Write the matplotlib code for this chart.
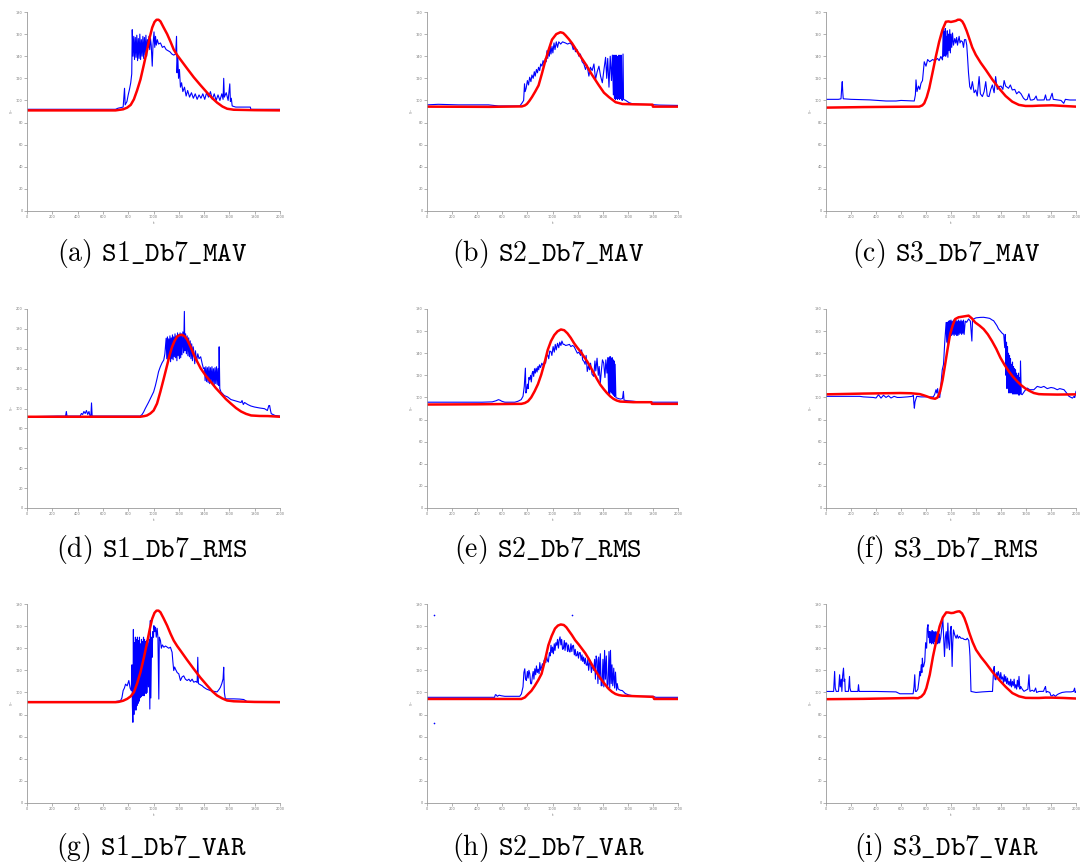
import numpy as np
import matplotlib
matplotlib.use("Agg")
import matplotlib.pyplot as plt

plt.rcParams['mathtext.fontset'] = 'cm'

# --- values (t, value) ---
s1_mav_blue = [(0,92),(700,92),(720,93),(760,94),(771,111),(776,96),(790,99),(800,105),(810,110),(820,116),(828,124),(832,164),(838,140),(844,158),(850,137),(856,157),(862,139),(868,159),(874,136),(880,156),(886,138),(892,160),(898,137),(904,155),(910,140),(916,158),(922,138),(928,157),(934,141),(940,159),(946,140),(952,155),(958,148),(964,158),(970,146),(976,156),(982,150),(990,131),(996,150),(1004,162),(1010,148),(1016,158),(1022,150),(1030,155),(1040,151),(1055,152),(1070,148),(1085,149),(1100,146),(1115,145),(1130,144),(1145,142),(1160,141),(1175,142),(1182,158),(1186,125),(1192,140),(1198,120),(1205,128),(1213,112),(1222,116),(1232,108),(1245,112),(1258,104),(1270,109),(1285,103),(1300,107),(1315,102),(1330,106),(1345,101),(1360,105),(1375,102),(1390,106),(1405,101),(1420,107),(1435,103),(1450,108),(1465,101),(1480,106),(1495,100),(1510,105),(1525,100),(1540,106),(1550,101),(1555,120),(1560,103),(1575,107),(1590,100),(1603,115),(1608,99),(1615,102),(1622,95),(1650,94),(1700,94),(1765,94),(1770,92),(2000,92)]
s1_mav_red = [(0,91),(700,91),(760,92),(792,93.5),(820,96),(845,101),(870,109),(897,119),(925,133),(950,146),(970,157),(990,166),(1008,171),(1024,173),(1040,173),(1055,171.5),(1080,166),(1108,160),(1135,153),(1160,146),(1187,141),(1213,137),(1265,129),(1318,121),(1370,114),(1424,107),(1465,102),(1503,98),(1545,94.5),(1582,92.5),(1634,91.6),(1800,91.2),(2000,91)]

s2_mav_blue = [(0,96),(90,96.5),(250,96),(490,96),(570,95),(740,95),(756,97.5),(770,100),(777,115),(782,108),(790,111),(800,118),(809,114),(818,121),(828,117),(836,123),(846,120),(855,126),(862,122),(872,128),(880,125),(889,130),(898,127),(906,133),(916,131),(925,136),(934,133),(943,138),(950,135),(956,145),(962,138),(969,147),(975,140),(982,150),(988,142),(996,149),(1003,143),(1012,152),(1020,146),(1030,153),(1040,148),(1050,153),(1065,151),(1080,153),(1103,152),(1120,151),(1140,152),(1156,150),(1165,146),(1175,149),(1183,144),(1195,146),(1210,140),(1222,142),(1236,135),(1250,133),(1263,128),(1275,132),(1290,122),(1302,130),(1316,127),(1330,133),(1343,119),(1356,126),(1370,131),(1383,122),(1397,116),(1410,128),(1423,139),(1432,120),(1440,138),(1450,112),(1460,140),(1470,118),(1477,141),(1485,105),(1490,141),(1494,102),(1498,140),(1502,101),(1506,141),(1510,102),(1514,140),(1518,101),(1522,138),(1526,102),(1530,141),(1534,101),(1538,139),(1542,102),(1546,141),(1550,101),(1556,100),(1562,142),(1566,101),(1584,100),(1610,98),(1637,97),(1700,96.5),(1797,96.2),(1850,95.8),(2000,95.5)]
s2_mav_red = [(0,94.4),(500,94.2),(756,94.6),(780,95.5),(796,96.8),(815,99.5),(836,103),(862,108),(889,113.6),(915,124),(943,136),(970,146),(996,155),(1030,160),(1063,161.7),(1085,161),(1103,159),(1130,155.5),(1156,151.7),(1210,142),(1263,133),(1316,123),(1370,113.6),(1410,107),(1450,103),(1503,98.4),(1557,96.8),(1650,96.5),(1797,96.2),(1800,94.4),(2000,94.4)]

s3_mav_blue = [(0,101),(100,101),(120,101.5),(126,112),(130,117),(134,108),(138,101.5),(200,101),(350,100.5),(480,99.5),(560,99.5),(600,100),(706,99.5),(715,105),(720,118.6),(728,108),(740,113),(750,110),(760,115.6),(772,118),(786,135),(800,131),(813,137),(830,135),(853,137),(870,136),(892,138),(905,136),(919,139.8),(932,136.7),(938,165.5),(942,140),(946,162),(950,141),(954,165),(958,140),(962,158),(966,142),(970,163),(975,139),(980,160),(985,145),(990,164),(995,143),(1000,160),(1006,148),(1012,161),(1020,150),(1030,156),(1038,151.9),(1045,157),(1052,150),(1058,154),(1065,158),(1072,152),(1080,154),(1092,153),(1100,148),(1108,155),(1118,155),(1126,150),(1132,139.8),(1140,125),(1150,112.5),(1160,110),(1171,117),(1185,107),(1198,109.5),(1210,104),(1225,121.6),(1235,106),(1251,103.5),(1265,108),(1278,117),(1290,104),(1304,103.5),(1318,110),(1331,114),(1345,107),(1357,121.6),(1370,110),(1384,112.5),(1400,113),(1415,110),(1425,118),(1437,113),(1460,111),(1475,114),(1490,109.5),(1510,110),(1525,106),(1543,108),(1560,106),(1580,102),(1596,100.4),(1610,101),(1623,106),(1635,100.4),(1649,100.4),(1665,101),(1681,104),(1690,100.4),(1720,100.4),(1745,100.5),(1756,105),(1765,100.4),(1790,100.5),(1809,106.5),(1818,101),(1850,100.5),(1880,100),(1902,97.4),(1915,101),(1950,100.4),(2000,100.4)]
s3_mav_red = [(0,93.5),(300,94),(600,94.3),(746,94.4),(770,95.5),(786,97.4),(806,103),(826,111),(852,125),(879,139.8),(905,153),(932,164),(959,171.2),(980,171.5),(999,171),(1020,171.5),(1038,172),(1055,173),(1073,173),(1090,171.5),(1105,168.5),(1125,163),(1145,156.4),(1170,148),(1198,141.3),(1238,134),(1278,127.7),(1330,119),(1384,111),(1437,104),(1490,98.9),(1543,96),(1596,95),(1650,95),(1703,95.3),(1809,95.6),(1900,95),(2000,94.4)]

s1_rms_blue = [(0,91.7),(244,92.4),(305,92.4),(311,97),(316,92.4),(420,92.4),(430,95),(440,94),(450,97),(460,95),(470,98),(480,94),(490,97),(497,93),(505,92.4),(510,105.6),(515,92.4),(700,92.4),(895,92.4),(910,94),(922,96.5),(935,100),(948,103),(960,106),(975,110),(990,114),(1001,116.7),(1015,123),(1028,130),(1040,137),(1054,142),(1068,146),(1081,148.7),(1090,155),(1100,170.6),(1105,150),(1110,172),(1115,148),(1120,170),(1125,152),(1130,173),(1135,147),(1140,171),(1145,150),(1150,174),(1155,149),(1160,172),(1165,152),(1170,175),(1175,151),(1180,173),(1185,148),(1190,176),(1195,153),(1200,174),(1205,150),(1210,176),(1215,151),(1220,175),(1225,154),(1232,177),(1238,156),(1244,197.6),(1248,158),(1254,175),(1260,155),(1266,173),(1272,153),(1278,171),(1284,152),(1290,168),(1296,150),(1302,165),(1308,148),(1314,162),(1320,155.5),(1326,145),(1332,158),(1340,147),(1350,155),(1360,150),(1373,152),(1385,145),(1395,140),(1403,141),(1408,128),(1414,142),(1420,127),(1426,141),(1432,126),(1438,142),(1444,125),(1450,141),(1456,126),(1462,142),(1468,125),(1474,140),(1480,124),(1486,141),(1492,125),(1498,142),(1504,124),(1510,140),(1516,123),(1519,162),(1524,120),(1533,116.7),(1560,113),(1586,111.6),(1612,109),(1639,108),(1665,107),(1692,106),(1700,108),(1710,104),(1720,106),(1745,104),(1770,102.5),(1798,101.5),(1840,100.5),(1878,99.8),(1900,98),(1912,103),(1918,103),(1925,98),(1931,94.8),(1960,93),(2000,92.4)]
s1_rms_red = [(0,91.7),(500,91.7),(895,91.7),(925,92.3),(948,93),(975,95),(1001,98),(1028,105),(1054,116.7),(1081,130),(1108,143.7),(1128,154),(1147,162),(1167,168),(1187,172.3),(1207,173.8),(1227,174),(1247,172.5),(1267,169),(1293,162),(1320,153.8),(1346,147),(1373,140.3),(1413,133),(1453,126.8),(1493,120.5),(1533,115),(1572,109.5),(1612,104.9),(1652,100.5),(1692,97),(1732,94.6),(1772,93),(1838,92.5),(1904,92.4),(2000,91.7)]

s2_rms_blue = [(0,95.7),(440,95.7),(520,96),(550,97),(569,98),(582,97.5),(595,96.6),(620,95.7),(700,95.7),(726,96.6),(750,98),(765,101),(775,110),(784,126.5),(788,104),(792,105.5),(800,112),(806,108),(812,118),(818,116),(826,120),(831,114),(838,122),(844,123.5),(850,119),(857,126),(863,122),(870,126.5),(877,123),(884,128),(890,125),(896,129.5),(905,127),(915,131),(925,129),(936,132.5),(945,131),(952,137),(962,138.5),(970,135),(978,142),(988,141.4),(995,138),(1005,146),(1014,141),(1022,148),(1030,143),(1040,149),(1050,145),(1058,150),(1067,147),(1075,151),(1085,148),(1093,148),(1105,147),(1119,147.4),(1135,148),(1146,146),(1160,147),(1172,146),(1185,143),(1198,140),(1210,141),(1224,138),(1232,143),(1240,134),(1251,132.5),(1260,130),(1268,138),(1277,123.5),(1287,129),(1295,125),(1303,131),(1315,121),(1329,119),(1338,133),(1345,124),(1355,135.5),(1365,120),(1372,128),(1381,113),(1390,125),(1398,134),(1408,131),(1418,118),(1425,134),(1434,122),(1440,136),(1447,104),(1451,136),(1455,103),(1459,137),(1463,105),(1467,135),(1471,104),(1475,136),(1479,103),(1483,134),(1487,102),(1491,133),(1495,101),(1499,130),(1505,100),(1512,99.5),(1540,98.5),(1558,99),(1565,105.5),(1570,97.5),(1600,97),(1643,96.6),(1700,95.8),(1748,95.7),(2000,95.7)]
s2_rms_red = [(0,93.6),(400,93.8),(752,94.2),(780,95),(805,96.6),(830,100),(857,105.5),(884,112),(910,120.5),(936,131),(962,143),(988,151),(1014,156.4),(1040,159.8),(1067,161.5),(1093,160.8),(1119,158),(1145,154),(1172,149),(1198,145),(1224,141.4),(1250,137),(1277,132.5),(1303,127.5),(1329,122),(1355,116.5),(1381,111.5),(1408,107.5),(1434,104),(1460,101),(1486,98.7),(1512,97.2),(1539,96.3),(1643,95.7),(1788,95.7),(1792,94.2),(2000,94.2)]

s3_rms_blue = [(0,101),(270,101),(300,100.5),(378,100),(400,99.5),(420,102.5),(440,99.4),(460,102),(480,100),(500,101.5),(520,99.5),(545,101),(570,100),(592,100),(650,100.5),(690,101),(699,102),(703,95),(707,90.3),(712,96),(726,101),(760,100.5),(800,100.5),(859,100.5),(870,103),(880,107),(886,104),(893,108),(900,101),(910,100),(920,112),(930,125),(940,129.8),(950,150),(961,167.8),(966,150),(970,168),(975,148),(980,169),(985,150),(990,169.4),(995,155),(1000,170),(1005,156),(1010,169),(1015,157),(1020,170),(1025,156),(1030,169),(1035,157),(1040,170),(1045,156),(1050,169),(1055,156),(1060,170),(1065,157),(1070,169),(1075,158),(1080,170),(1085,157),(1090,169),(1095,158),(1100,170),(1105,157),(1114,169),(1125,168),(1141,171),(1155,169),(1167,151),(1172,170),(1181,171),(1200,172),(1234,172.4),(1260,172.5),(1288,172),(1310,171.5),(1330,170),(1341,169.4),(1355,167),(1368,164.8),(1380,162),(1395,160),(1410,158),(1422,157),(1430,145),(1435,157),(1440,120),(1444,150),(1448,108),(1452,146),(1456,115),(1460,140),(1464,104),(1468,138),(1472,112),(1476,135),(1480,104),(1484,130),(1488,108),(1492,132),(1496,103),(1500,128),(1504,109),(1508,126),(1512,103),(1516,125),(1520,106),(1524,122),(1528,103),(1532,120),(1536,104),(1540,122),(1544,102),(1548,118),(1552,103),(1556,133),(1562,103),(1569,102.5),(1590,106),(1609,108.5),(1630,107),(1663,107),(1690,110),(1720,109),(1743,110),(1770,108),(1800,109),(1823,108.5),(1850,107),(1870,108),(1904,107),(1925,104),(1944,101),(1960,100),(1971,99.4),(1985,101),(1990,100),(2000,105.5)]
s3_rms_red = [(0,102.8),(300,103.5),(592,104),(680,103.8),(752,103),(780,102),(806,101),(840,99.5),(873,98.8),(893,100),(913,105.5),(933,116),(953,129.8),(973,144),(993,157.2),(1013,165),(1033,170.9),(1060,172.5),(1087,173),(1114,173.5),(1141,174),(1167,171.5),(1194,167.8),(1228,165),(1261,161.8),(1295,157),(1328,151),(1362,144),(1395,136),(1428,129.5),(1462,123.7),(1495,118.8),(1529,114.6),(1562,111),(1596,108),(1630,105.8),(1663,104),(1703,103),(1743,102.8),(1850,102.6),(2000,102.8)]

s1_var_blue = [(0,91.8),(700,91.8),(739,92.5),(750,95),(760,101.7),(770,104),(779,107.5),(792,106),(805,110.8),(815,104),(824,101.7),(830,125),(833,88),(837,73),(841,157),(845,80),(849,145),(853,85),(857,150),(861,84),(865,148),(869,88),(873,150),(877,90),(881,147),(885,92),(889,150),(893,95),(897,143.9),(901,96),(905,148),(909,97),(913,146),(917,98),(921,150),(925,97),(929,148),(933,100),(937,146),(941,99),(945,147),(950,100),(955,145),(960,105),(965,148),(971,85),(975,165),(979,95),(985,150),(989,131.8),(994,155),(1000,150),(1003,160.4),(1010,155),(1016,159),(1022,150),(1029,158),(1035,150),(1042,94),(1046,150),(1055,146.9),(1062,140),(1070,143),(1082,140.9),(1095,142),(1108,141),(1120,140),(1134,140.9),(1142,138),(1147,136.4),(1153,128),(1160,119.8),(1167,123),(1174,121),(1187,118),(1200,116.8),(1213,110.8),(1226,114),(1239,115),(1252,112),(1266,110.8),(1280,112),(1292,110),(1305,112),(1318,109.3),(1335,110),(1345,109),(1350,131.8),(1355,108),(1370,107),(1385,106),(1397,104.7),(1420,103),(1450,101.7),(1475,101),(1503,100.5),(1520,103),(1529,104.7),(1540,108),(1550,112.3),(1555,122.8),(1560,100),(1568,94.2),(1600,94.2),(1634,94.2),(1680,94),(1713,93.6),(1739,91.8),(2000,91.8)]
s1_var_red = [(0,91.2),(700,91.2),(726,91.5),(760,92.5),(792,94.2),(820,96.5),(845,100.2),(870,108),(897,118.3),(925,132),(950,145.4),(970,157),(989,166.5),(1008,172),(1024,174),(1040,174),(1055,172.5),(1080,167),(1108,160.4),(1135,153),(1160,146.9),(1187,142),(1213,137.9),(1265,129.5),(1318,121.3),(1370,113.5),(1424,106.3),(1465,101),(1503,97.2),(1545,94.5),(1582,92.7),(1634,92),(1800,91.4),(2000,91.2)]

s2_var_blue = [(0,95.6),(300,95.6),(538,95.6),(545,98),(552,97.7),(560,96.5),(575,97.5),(592,97),(620,96.5),(672,96.5),(700,96.5),(739,96.5),(752,98.6),(765,105),(772,118),(779,121.4),(785,112),(792,110.8),(800,119),(806,113),(812,120),(819,116.9),(826,108),(833,107.8),(840,115),(846,119),(852,112),(859,121.4),(866,116),(872,124),(879,118),(886,121),(893,117),(899,127),(906,120),(913,122.9),(920,126),(926,124),(933,129),(940,130.5),(947,127),(953,133),(960,129),(967,127.5),(975,136),(981,133),(988,142.7),(995,136),(1000,141),(1007,135),(1014,144),(1020,138),(1027,145),(1034,142.7),(1040,148),(1047,140),(1053,147),(1060,150.3),(1067,143),(1073,148),(1080,139),(1087,139.6),(1094,147),(1100,138),(1107,145),(1114,144.2),(1120,137),(1127,143),(1134,137),(1140,136.6),(1147,144),(1154,137),(1160,142),(1167,142.7),(1174,134),(1181,139),(1187,133),(1194,133.5),(1200,137),(1207,131),(1214,136),(1221,136),(1228,129),(1235,134),(1241,128),(1248,132),(1255,126),(1262,131),(1268,125),(1275,124.5),(1282,130),(1288,120),(1294,126),(1301,129),(1310,118),(1318,125),(1328,119.9),(1336,130),(1342,112),(1348,133),(1355,129),(1362,108),(1368,132),(1375,112),(1381,135),(1388,106),(1395,106.2),(1402,130),(1409,105),(1415,138),(1422,112),(1429,133),(1436,104),(1443,107.8),(1450,137),(1456,104),(1462,138.1),(1468,108),(1474,125),(1480,106),(1488,122),(1495,104),(1502,118.4),(1510,102),(1516,108),(1523,103.2),(1540,102),(1556,101.7),(1580,99),(1609,97.7),(1640,97),(1663,96.5),(1720,96.5),(1802,96.5),(1823,95.6),(2000,95.6)]
s2_var_dots = [(56,170),(56,72.8),(1159,170)]
s2_var_red = [(0,94.1),(400,94.1),(752,94.1),(780,95.5),(806,98.6),(832,101.5),(859,106),(886,111),(913,116.9),(940,129),(967,142.7),(993,151),(1020,157.8),(1043,160.5),(1066,161.5),(1090,161),(1110,159),(1127,156.3),(1154,152),(1181,147.2),(1208,143.5),(1234,139.6),(1261,135.5),(1288,130.5),(1315,125),(1341,119.9),(1368,115),(1395,110.8),(1422,106.8),(1448,103.2),(1475,100.5),(1502,98.6),(1529,97.6),(1556,97.1),(1663,96.6),(1802,96),(1810,94.1),(2000,94.1)]

s3_var_blue = [(0,100.9),(61,100.9),(65,110),(69,119),(74,104),(82,100.9),(100,101),(105,110),(109,116),(114,105),(122,112),(127,100.9),(133,115),(140,122),(145,110),(150,112),(154,100.9),(180,101),(184,108),(188,114.5),(192,104),(199,100.9),(230,100.9),(255,100.9),(260,107),(265,101),(268,100.9),(400,100.9),(560,100.5),(591,98.8),(650,98.8),(697,98.8),(704,105),(710,116),(715,101),(723,100.9),(735,103),(745,112),(750,119),(756,115),(762,125),(767,118),(771,131),(776,123),(781,123.5),(790,128),(797,145),(805,140),(810,158),(816,161.3),(820,150),(824,155),(829,144.7),(833,155),(837,145),(841,154),(845,144),(849,156),(853,145),(857,155),(861,144),(865,154),(869,146),(873,155),(877,145),(881,153),(885,146),(889,155),(893,144),(897,154),(901,145),(905,153),(909,144.7),(918,150),(926,158),(935,165.8),(941,150),(948,132.5),(955,150),(962,155),(968,140),(975,162.8),(981,145),(988,138.6),(994,155),(1001,159.8),(1005,140),(1009,123.5),(1014,145),(1020,156.6),(1030,152),(1041,149),(1050,152),(1058,149),(1068,150.7),(1080,149),(1094,149),(1105,148),(1121,147.7),(1130,149),(1142,147),(1148,140),(1152,132.6),(1156,115),(1160,100.9),(1180,100.5),(1200,100),(1250,100.5),(1306,100.9),(1332,100.9),(1336,110),(1341,121),(1346,123.5),(1352,112),(1359,111.4),(1366,118),(1372,113),(1378,119),(1385,116),(1392,111),(1398,118),(1405,112),(1412,114),(1420,109),(1426,116),(1432,110),(1438,114.5),(1445,108),(1452,113),(1458,107),(1465,110),(1472,106),(1478,112),(1484,105),(1491,110),(1498,106),(1505,112),(1511,104),(1518,107),(1525,103),(1531,111),(1538,105),(1544,114.5),(1551,103),(1558,105.4),(1570,103),(1584,101),(1600,102),(1615,103),(1624,116),(1628,106),(1632,101),(1650,102),(1665,100.9),(1677,104),(1685,100),(1703,100.9),(1740,101),(1750,104),(1756,105.4),(1762,100),(1770,100.9),(1790,100),(1800,97),(1809,96.9),(1820,98),(1835,96.5),(1850,98),(1862,98.8),(1889,100),(1920,100.5),(1960,100.5),(1980,101),(1989,103.9),(1993,100),(2000,100.9)]
s3_var_red = [(0,93.9),(300,94.2),(591,94.8),(700,95),(736,94.8),(763,96.3),(785,99),(803,103.9),(830,116),(856,132.6),(883,147),(909,159.8),(935,168),(962,172.4),(980,172.3),(1001,171.8),(1020,172),(1036,172.7),(1052,173.2),(1068,173.4),(1088,171.5),(1107,167.3),(1127,161),(1147,153.7),(1173,145.5),(1200,138.6),(1240,132),(1279,126.5),(1332,118.5),(1385,111.4),(1438,105),(1491,99.4),(1544,96.5),(1597,95.1),(1650,95),(1703,95),(1756,95.3),(1809,95.3),(1900,95),(2000,94.5)]

letters = ['a', 'b', 'c', 'd', 'e', 'f', 'g', 'h', 'i']
names = ['S1_Db7_MAV', 'S2_Db7_MAV', 'S3_Db7_MAV',
         'S1_Db7_RMS', 'S2_Db7_RMS', 'S3_Db7_RMS',
         'S1_Db7_VAR', 'S2_Db7_VAR', 'S3_Db7_VAR']
blues = [s1_mav_blue, s2_mav_blue, s3_mav_blue,
         s1_rms_blue, s2_rms_blue, s3_rms_blue,
         s1_var_blue, s2_var_blue, s3_var_blue]
reds = [s1_mav_red, s2_mav_red, s3_mav_red,
        s1_rms_red, s2_rms_red, s3_rms_red,
        s1_var_red, s2_var_red, s3_var_red]
ymaxes = [180, 180, 180, 200, 180, 180, 180, 180, 180]

W, H = 1084, 864
fig = plt.figure(figsize=(W / 100, H / 100), dpi=100)

# pixel boxes of the axes (left, right) per column, (top, bottom) per row
cols = [(27, 280), (427, 678), (826, 1076)]
rows = [(12, 211), (309, 508), (604, 803)]
cap_x = [152, 548, 946]
cap_y = [253, 549, 847]

for k in range(9):
    r, c = divmod(k, 3)
    x0, x1 = cols[c]
    y0, y1 = rows[r]
    ax = fig.add_axes([x0 / W, 1 - y1 / H, (x1 - x0) / W, (y1 - y0) / H])
    b = np.array(blues[k])
    rd = np.array(reds[k])
    ax.plot(b[:, 0], b[:, 1], color='#0000ff', lw=0.8)
    if k == 7:
        d = np.array(s2_var_dots)
        ax.plot(d[:, 0], d[:, 1], 'o', color='#0000ff', ms=1.2, mew=0)
    ax.plot(rd[:, 0], rd[:, 1], color='#ff0000', lw=1.8)
    ax.set_xlim(0, 2000)
    ax.set_ylim(0, ymaxes[k])
    ax.set_xticks(np.arange(0, 2001, 200))
    ax.set_yticks(np.arange(0, ymaxes[k] + 1, 20))
    for s in ['top', 'right']:
        ax.spines[s].set_visible(False)
    for s in ['left', 'bottom']:
        ax.spines[s].set_color('#999999')
        ax.spines[s].set_linewidth(0.6)
    ax.tick_params(labelsize=2.5, colors='#777777', length=2, width=0.4, pad=1)
    ax.set_xlabel('t', fontsize=3, color='#777777', labelpad=1)
    ax.set_ylabel('$y_n$', fontsize=3, color='#777777', labelpad=1)
    fig.text(cap_x[c] / W, 1 - cap_y[r] / H,
             '(%s) $\\mathtt{%s}$' % (letters[k], names[k].replace('_', '\\_')),
             family='cmr10', fontsize=20, ha='center', va='center')

fig.savefig('out.png', dpi=100)
